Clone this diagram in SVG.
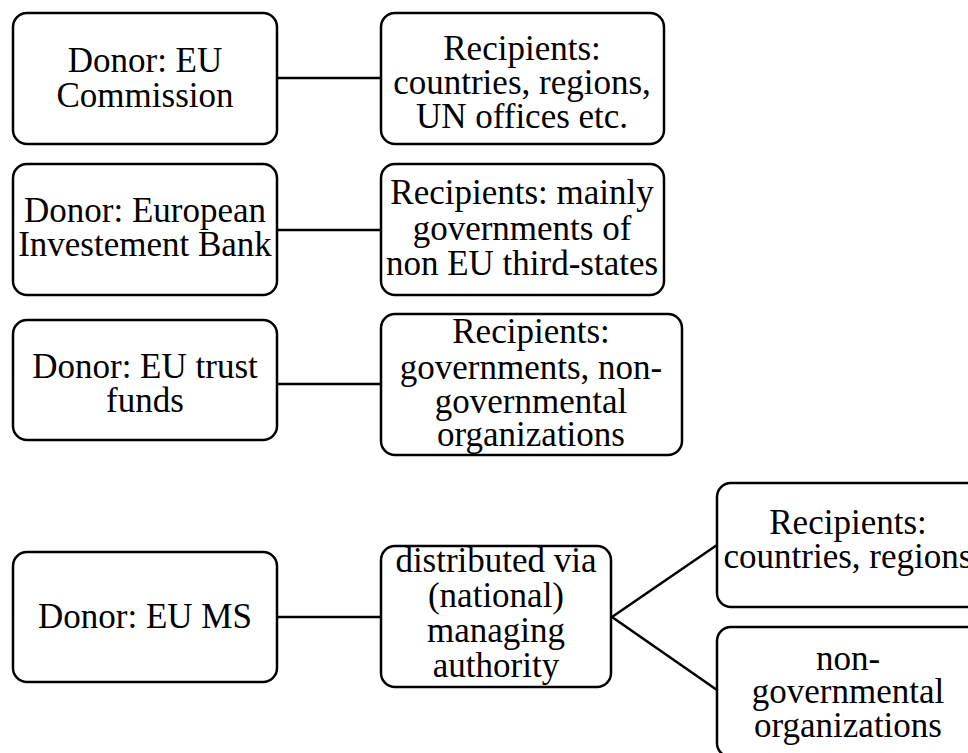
<svg xmlns="http://www.w3.org/2000/svg" width="968" height="753" viewBox="0 0 968 753">
<style>
.box{fill:#fff;stroke:#000;stroke-width:2.5}
.t{font-family:'Liberation Serif','Times New Roman',serif;font-size:35px;fill:#000;text-anchor:middle}
.c{stroke:#000;stroke-width:2.5;fill:none}
</style>
<rect width="968" height="753" fill="#fff"/>
<g id="connectors">
<line class="c" x1="277" y1="78" x2="381" y2="78"/>
<line class="c" x1="277" y1="230" x2="381" y2="230"/>
<line class="c" x1="277" y1="384" x2="381" y2="384"/>
<line class="c" x1="277" y1="617" x2="381" y2="617"/>
<polyline class="c" points="717,545 612,617 717,690"/>
</g>
<g id="donor-commission">
<rect class="box" x="13" y="13" width="264" height="131" rx="14"/>
<text class="t" x="145" y="72">Donor: EU</text>
<text class="t" x="145" y="107">Commission</text>
</g>
<g id="recip-commission">
<rect class="box" x="381" y="13" width="283" height="131" rx="14"/>
<text class="t" x="522" y="60">Recipients:</text>
<text class="t" x="522" y="94">countries, regions,</text>
<text class="t" x="522" y="128">UN offices etc.</text>
</g>
<g id="donor-eib">
<rect class="box" x="13" y="164" width="264" height="131" rx="14"/>
<text class="t" x="145" y="222">Donor: European</text>
<text class="t" x="145" y="256">Investement Bank</text>
</g>
<g id="recip-eib">
<rect class="box" x="381" y="164" width="283" height="131" rx="14"/>
<text class="t" x="522" y="204">Recipients: mainly</text>
<text class="t" x="522" y="240">governments of</text>
<text class="t" x="522" y="275">non EU third-states</text>
</g>
<g id="donor-trust">
<rect class="box" x="13" y="320" width="264" height="120" rx="14"/>
<text class="t" x="145" y="378">Donor: EU trust</text>
<text class="t" x="145" y="412">funds</text>
</g>
<g id="recip-trust">
<rect class="box" x="381" y="314" width="301" height="141" rx="14"/>
<text class="t" x="531" y="343">Recipients:</text>
<text class="t" x="531" y="379">governments, non-</text>
<text class="t" x="531" y="413">governmental</text>
<text class="t" x="531" y="446">organizations</text>
</g>
<g id="donor-ms">
<rect class="box" x="13" y="552" width="264" height="130" rx="14"/>
<text class="t" x="145" y="628">Donor: EU MS</text>
</g>
<g id="managing-authority">
<rect class="box" x="381" y="546" width="230" height="141" rx="14"/>
<text class="t" x="496" y="572">distributed via</text>
<text class="t" x="496" y="607">(national)</text>
<text class="t" x="496" y="642">managing</text>
<text class="t" x="496" y="677">authority</text>
</g>
<g id="recip-countries">
<rect class="box" x="717" y="483" width="270" height="124" rx="14"/>
<text class="t" x="848" y="534">Recipients:</text>
<text class="t" x="848" y="568">countries, regions</text>
</g>
<g id="recip-ngo">
<rect class="box" x="717" y="627" width="270" height="130" rx="14"/>
<text class="t" x="848" y="670">non-</text>
<text class="t" x="848" y="703">governmental</text>
<text class="t" x="848" y="737">organizations</text>
</g>
</svg>
